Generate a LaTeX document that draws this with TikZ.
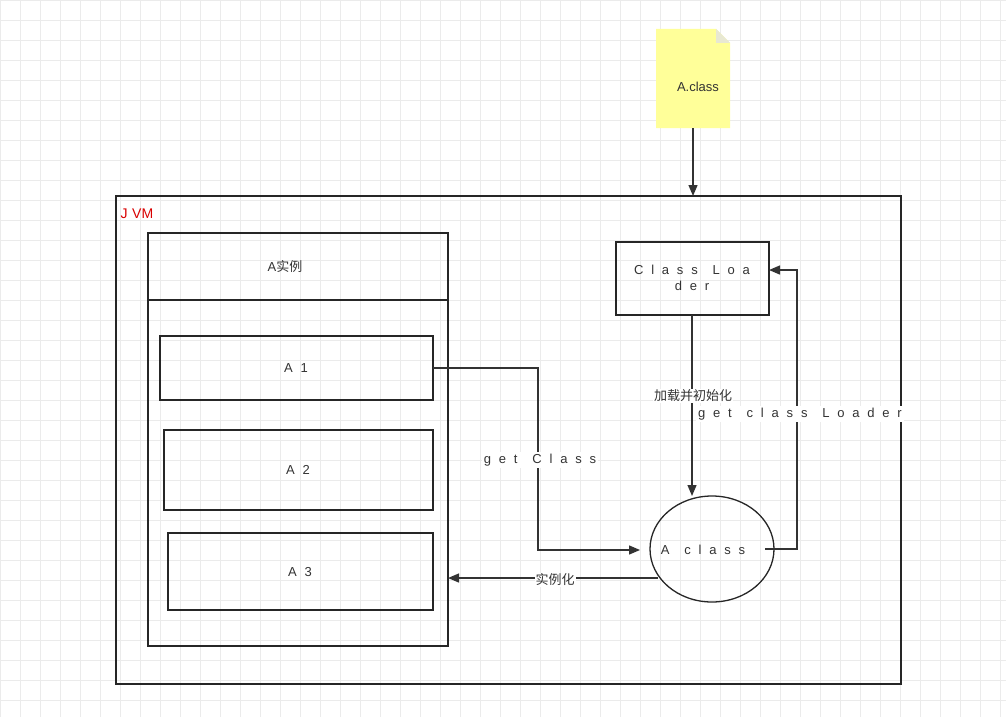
\documentclass[tikz,border=0pt]{standalone}
\usepackage{fontspec}
\setmainfont{Liberation Sans}
\newfontfamily\cjk{Noto Sans CJK SC}
\newfontfamily\spaced{Liberation Sans}[LetterSpace=60,WordSpace=1.3]
\usetikzlibrary{arrows.meta,shapes.geometric}
\definecolor{notey}{HTML}{FFFF99}
\begin{document}
\begin{tikzpicture}[x=1pt,y=-1pt,
  box/.style={draw=black!85,line width=1.3pt},
  con/.style={draw=black!80,line width=1.3pt,-{Triangle[length=11pt,width=9pt]}},
  lbl/.style={font=\fontsize{13}{15}\selectfont,text=black!80},
  sp/.style={font=\fontsize{13}{16}\selectfont\spaced,text=black!80}]
\useasboundingbox (0,0) rectangle (1006,717);
\fill[white] (0,0) rectangle (1006,717);
\foreach \i in {0,20,...,1000} \draw[black!8,line width=0.6pt] (\i,0) -- (\i,717);
\foreach \i in {0,20,...,700} \draw[black!8,line width=0.6pt] (0,\i) -- (1006,\i);
% note
\fill[notey] (656,29) -- (716,29) -- (730,43) -- (730,128) -- (656,128) -- cycle;
\fill[notey!70!black!30] (716,29) -- (716,43) -- (730,43) -- cycle;
\node[lbl] (note) at (698,87) {A.class};
\coordinate (nb) at (693,128);
% JVM
\draw[box] (116,196) rectangle (901,684);
\coordinate (jt) at (693,196);
\draw[con] (nb) -- (jt);
\node[font=\fontsize{14}{16}\selectfont,text=red!85!black,anchor=west] (jvm) at (117,214) {J\,\,VM};
% A instance
\draw[box] (148,233) rectangle (448,646);
\draw[box] (148,300) -- (448,300);
\node[lbl] (ai) at (285,267) {A{\cjk 实例}};
\draw[box] (160,336) rectangle (433,400);
\node[sp] (a1) at (296,368) {A1};
\draw[box] (164,430) rectangle (433,510);
\node[sp] (a2) at (298,470) {A2};
\draw[box] (168,533) rectangle (433,610);
\node[sp] (a3) at (300,572) {A3};
\coordinate (a1r) at (433,368);
\coordinate (a3r) at (448,578);
% class loader
\draw[box] (616,242) rectangle (769,315);
\node[sp,align=center] (cl) at (692,278) {Class Loa\\der};
\coordinate (clb) at (692,315);
\coordinate (clr) at (769,270);
% ellipse
\node[draw=black!85,line width=1.3pt,ellipse,minimum width=124pt,minimum height=106pt,inner sep=0pt] (ac) at (712,549) {};
\node[sp] (act) at (703,550) {A class};
\coordinate (ect) at (692,496);
\coordinate (ecl) at (640,550);
\coordinate (ecr) at (765,549);
\coordinate (ecb) at (658,578);
% connectors
\draw[con] (clb) -- (ect);
\node[lbl,fill=white,inner sep=1pt] (l1) at (693,396) {\cjk 加载并初始化};
\draw[con] (a1r) -- (538,368) -- (538,550) -- (ecl);
\node[sp,fill=white,inner sep=2pt] (l2) at (540,460) {get Class};
\draw[con] (ecr) -- (797,549) -- (797,270) -- (clr);
\node[sp,fill=white,inner sep=2pt] (l3) at (800,414) {get class Loader};
\draw[con] (ecb) -- (a3r);
\node[lbl,fill=white,inner sep=1pt] (l4) at (555,580) {\cjk 实例化};
\end{tikzpicture}
\end{document}
